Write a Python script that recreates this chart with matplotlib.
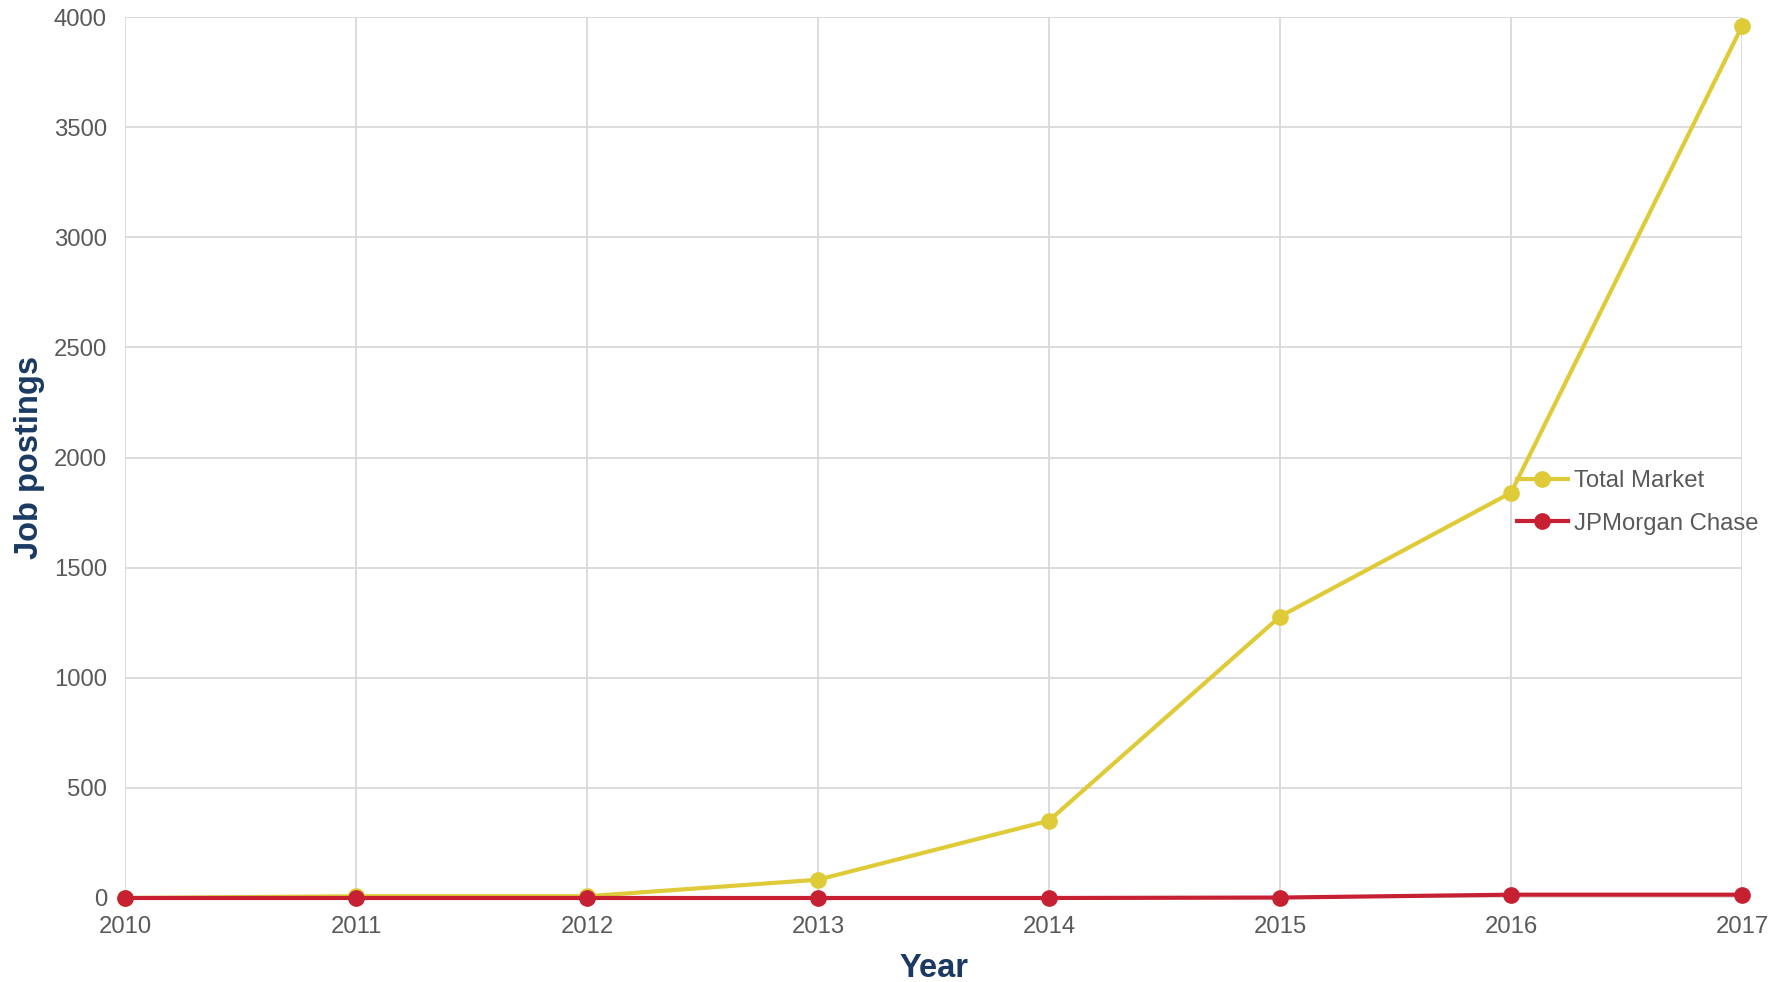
import matplotlib
matplotlib.use("Agg")
import matplotlib.pyplot as plt

years = [2010, 2011, 2012, 2013, 2014, 2015, 2016, 2017]
total_market = [0, 8, 8, 83, 351, 1278, 1840, 3958]
jpmorgan = [0, 0, 0, 0, 0, 2, 15, 15]
y_ticks = [0, 500, 1000, 1500, 2000, 2500, 3000, 3500, 4000]

YELLOW = "#DFCB38"
RED = "#C62032"
TEXT = "#595959"
NAVY = "#1B3A63"
GRID = "#D9D9D9"

plt.rcParams["font.family"] = ["Liberation Sans", "DejaVu Sans"]

fig = plt.figure(figsize=(17.84, 9.82), dpi=100)
ax = fig.add_axes([125 / 1784, 1 - 898 / 982, (1742 - 125) / 1784, (898 - 17) / 982])

ax.plot(years, total_market, color=YELLOW, lw=3.0, marker="o", ms=11,
        label="Total Market", clip_on=False, zorder=3)
ax.plot(years, jpmorgan, color=RED, lw=3.0, marker="o", ms=11,
        label="JPMorgan Chase", clip_on=False, zorder=4)

ax.set_xlim(years[0], years[-1])
ax.set_ylim(0, 4000)
ax.set_xticks(years)
ax.set_yticks(y_ticks)
ax.grid(True, color=GRID, lw=1.3)
ax.set_axisbelow(True)
for s in ax.spines.values():
    s.set_visible(False)
ax.tick_params(length=0, labelsize=17.2, labelcolor=TEXT)
ax.tick_params(axis="y", pad=13)
ax.tick_params(axis="x", pad=13)

ax.set_xlabel("Year", fontsize=23.5, fontweight="bold", color=NAVY, labelpad=11)
ax.set_ylabel("Job postings", fontsize=23.5, fontweight="bold", color=NAVY, labelpad=6)

leg = ax.legend(loc="center left", bbox_to_anchor=(0.8606, 0.449),
                frameon=False, fontsize=17.2, handlelength=2.15, handletextpad=0.25,
                labelspacing=0.85, borderpad=0, borderaxespad=0, labelcolor=TEXT)

fig.savefig("out.png", dpi=100)
